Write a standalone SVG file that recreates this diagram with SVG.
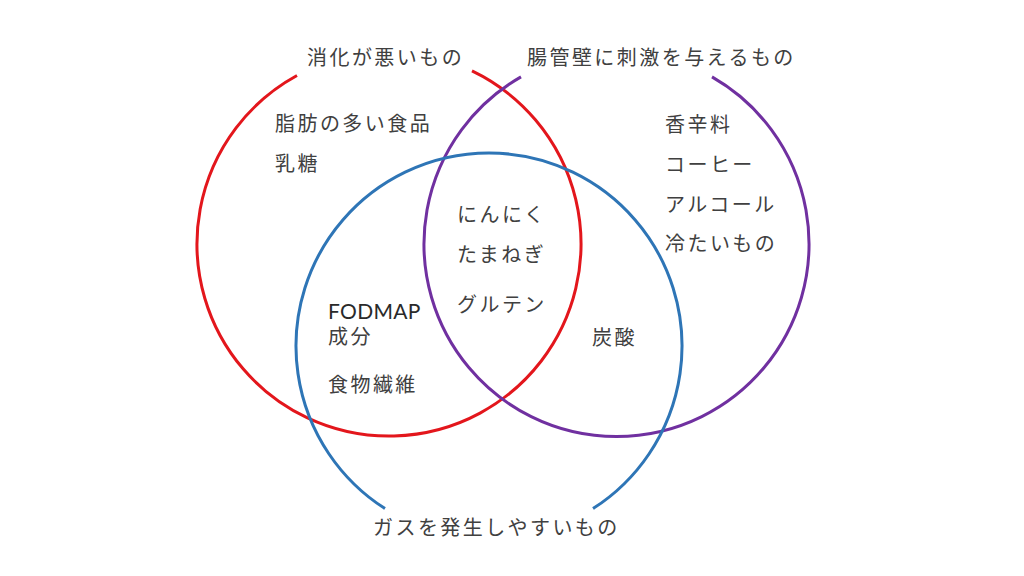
<svg xmlns="http://www.w3.org/2000/svg" width="1024" height="576" viewBox="0 0 1024 576">
<style>
.t{font-family:"Noto Sans CJK JP","Noto Sans",sans-serif;font-size:20px;fill:#404040;letter-spacing:2.45px}
.l{font-family:Lato,"Noto Sans",sans-serif;font-size:21px;fill:#2a2a2a;letter-spacing:0.3px}
.c{fill:none;stroke-width:3}
</style>
<rect width="1024" height="576" fill="#ffffff"/>
<g id="connectors">
<path id="circle-red" class="c" stroke="#e3161c" d="M 472 70.9 A 192 192 0 1 1 297 75.5"/>
<path id="circle-purple" class="c" stroke="#7030a0" d="M 712 76.9 A 192.5 192.5 0 1 1 521 76.9"/>
<path id="circle-blue" class="c" stroke="#2e75b6" d="M 385 508.6 A 193 193 0 1 1 593 508.6"/>
</g>
<g id="label-red"><text class="t" x="307" y="65">消化が悪いもの</text></g>
<g id="label-purple"><text class="t" x="527" y="65">腸管壁に刺激を与えるもの</text></g>
<g id="label-blue"><text class="t" x="373" y="535">ガスを発生しやすいもの</text></g>
<g id="red-only">
<text class="t" x="275" y="131">脂肪の多い食品</text>
<text class="t" x="275" y="171">乳糖</text>
</g>
<g id="purple-only">
<text class="t" x="665" y="132">香辛料</text>
<text class="t" x="665" y="172">コーヒー</text>
<text class="t" x="665" y="212">アルコール</text>
<text class="t" x="665" y="251">冷たいもの</text>
</g>
<g id="center">
<text class="t" x="457" y="222">にんにく</text>
<text class="t" x="457" y="262">たまねぎ</text>
<text class="t" x="457" y="312">グルテン</text>
</g>
<g id="red-blue">
<text class="l" x="328" y="319">FODMAP</text>
<text class="t" x="328" y="344">成分</text>
<text class="t" x="328" y="392">食物繊維</text>
</g>
<g id="purple-blue"><text class="t" x="592" y="345">炭酸</text></g>
</svg>
